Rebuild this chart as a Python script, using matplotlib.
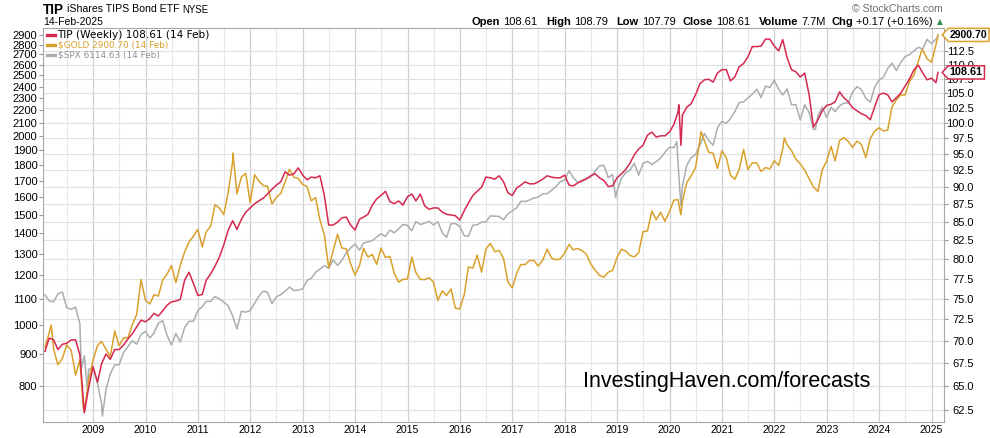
import matplotlib
matplotlib.use("Agg")
import matplotlib.pyplot as plt
import matplotlib.dates as mdates
import matplotlib.ticker as mticker
from matplotlib.lines import Line2D
from matplotlib.path import Path
from matplotlib.transforms import blended_transform_factory
import numpy as np
import pandas as pd

plt.rcParams["font.family"] = ["Liberation Sans", "DejaVu Sans"]

# ---- data (month-end closes, plus the last weekly bar) ----
months = pd.date_range("2008-01-31", "2025-01-31", freq="ME")
last_date = pd.Timestamp("2025-02-14")

tip_monthly = [
    68.8, 70.3, 70.1, 69.0, 69.6, 69.7, 70.1, 70.1, 68.4, 62.2, 64.8, 67.1,
    65.4, 67.4, 68.5, 67.9, 69.0, 69.0, 69.5, 70.2, 70.8, 71.6, 72.4, 72.2,
    72.6, 73.2, 72.9, 73.5, 74.2, 74.6, 74.7, 74.9, 77.3, 78.3, 76.9, 75.4,
    75.5, 77.3, 78.1, 79.1, 80.3, 81.9, 83.9, 85.2, 84.0, 85.4, 86.4, 87.0,
    87.6, 88.0, 88.4, 89.0, 89.7, 90.3, 90.8, 92.3, 91.8, 92.0, 92.9, 91.8,
    91.1, 91.5, 91.4, 91.7, 88.8, 84.6, 84.6, 85.0, 85.6, 85.7, 84.6, 83.9,
    85.4, 85.7, 86.1, 87.4, 88.3, 88.8, 89.4, 87.9, 87.6, 88.0, 87.4, 88.6,
    89.0, 88.0, 89.0, 87.3, 86.8, 87.0, 87.0, 86.4, 86.1, 86.0, 85.9, 85.3,
    86.6, 87.7, 88.8, 89.4, 90.0, 91.5, 91.4, 91.2, 91.7, 90.8, 89.2, 88.8,
    89.9, 90.3, 90.8, 90.5, 90.5, 90.8, 91.2, 91.7, 91.5, 91.4, 91.4, 91.8,
    90.3, 90.2, 90.6, 91.0, 91.2, 91.7, 92.0, 91.4, 91.0, 90.1, 90.2, 91.4,
    92.0, 92.6, 93.6, 94.9, 95.8, 96.4, 98.0, 98.5, 97.7, 97.9, 97.9, 98.5,
    99.7, 101.8, 101.3, 102.6, 103.2, 104.7, 106.6, 107.3, 107.4, 106.9, 108.5, 109.1,
    109.1, 107.1, 107.8, 109.6, 110.2, 111.4, 113.3, 113.3, 113.4, 114.7, 114.7, 113.4,
    112.5, 114.6, 111.2, 109.1, 108.7, 107.8, 108.5, 104.7, 99.3, 100.5, 102.0, 102.9,
    103.1, 103.5, 105.2, 104.2, 103.5, 102.5, 102.0, 101.5, 101.2, 100.5, 102.6, 104.7,
    105.0, 104.7, 103.5, 104.2, 105.0, 106.2, 107.5, 109.1, 109.9, 108.5, 107.3, 107.6,
    106.8,
]
gold_monthly = [
    923, 972, 916, 865, 885, 930, 913, 833, 880, 730, 815, 880,
    928, 942, 916, 891, 979, 927, 954, 955, 1001, 1040, 1182, 1096,
    1081, 1118, 1113, 1180, 1207, 1244, 1169, 1246, 1307, 1357, 1386, 1421,
    1333, 1409, 1439, 1556, 1536, 1500, 1628, 1825, 1620, 1722, 1746, 1566,
    1737, 1697, 1669, 1664, 1560, 1598, 1622, 1692, 1772, 1720, 1713, 1675,
    1663, 1578, 1597, 1472, 1393, 1234, 1313, 1396, 1327, 1323, 1253, 1202,
    1244, 1326, 1284, 1296, 1250, 1327, 1282, 1287, 1210, 1171, 1183, 1184,
    1283, 1213, 1183, 1182, 1190, 1172, 1095, 1134, 1115, 1142, 1065, 1061,
    1118, 1238, 1233, 1293, 1215, 1322, 1350, 1309, 1316, 1277, 1173, 1146,
    1211, 1249, 1249, 1268, 1268, 1242, 1269, 1322, 1280, 1271, 1275, 1303,
    1345, 1318, 1325, 1315, 1298, 1253, 1224, 1200, 1192, 1215, 1222, 1282,
    1321, 1313, 1292, 1284, 1305, 1409, 1413, 1520, 1472, 1513, 1464, 1517,
    1582, 1585, 1577, 1687, 1730, 1781, 1975, 1968, 1886, 1879, 1777, 1895,
    1847, 1734, 1708, 1769, 1906, 1771, 1814, 1814, 1757, 1783, 1774, 1829,
    1797, 1909, 1937, 1897, 1838, 1807, 1766, 1711, 1660, 1633, 1768, 1824,
    1928, 1827, 1969, 1990, 1962, 1919, 1965, 1940, 1849, 1983, 2036, 2063,
    2040, 2044, 2230, 2286, 2327, 2327, 2447, 2503, 2635, 2744, 2657, 2625,
    2798,
]
spx_monthly = [
    1378, 1330, 1323, 1386, 1400, 1280, 1267, 1283, 1166, 969, 896, 903,
    826, 735, 798, 873, 919, 919, 987, 1021, 1057, 1036, 1096, 1115,
    1074, 1104, 1169, 1187, 1089, 1031, 1102, 1049, 1141, 1183, 1181, 1258,
    1286, 1327, 1326, 1364, 1345, 1321, 1292, 1219, 1131, 1253, 1247, 1258,
    1312, 1366, 1408, 1398, 1310, 1362, 1379, 1407, 1441, 1412, 1416, 1426,
    1498, 1515, 1569, 1598, 1631, 1606, 1686, 1633, 1682, 1757, 1806, 1848,
    1783, 1859, 1872, 1884, 1924, 1960, 1931, 2003, 1972, 2018, 2068, 2059,
    1995, 2105, 2068, 2086, 2107, 2063, 2104, 1972, 1920, 2079, 2080, 2044,
    1940, 1932, 2060, 2065, 2097, 2099, 2174, 2171, 2168, 2126, 2199, 2239,
    2279, 2364, 2363, 2384, 2412, 2423, 2470, 2472, 2519, 2575, 2648, 2674,
    2824, 2714, 2641, 2648, 2705, 2718, 2816, 2902, 2914, 2712, 2760, 2507,
    2704, 2784, 2834, 2946, 2752, 2942, 2980, 2926, 2977, 3038, 3141, 3231,
    3226, 2954, 2585, 2912, 3044, 3100, 3271, 3500, 3363, 3270, 3622, 3756,
    3714, 3811, 3973, 4181, 4204, 4298, 4395, 4523, 4308, 4605, 4567, 4766,
    4516, 4374, 4530, 4132, 4132, 3785, 4130, 3955, 3586, 3872, 4080, 3840,
    4077, 3970, 4109, 4169, 4180, 4450, 4589, 4508, 4288, 4194, 4568, 4770,
    4846, 5096, 5254, 5036, 5278, 5460, 5522, 5648, 5762, 5705, 6032, 5882,
    6041,
]
tip_last, gold_last, spx_last = 108.61, 2900.70, 6114.63

# a few weekly extremes that month-end closes miss
tip_extra_dates = ["2020-03-06", "2020-03-20"]
tip_extra_values = [103.0, 96.4]
gold_extra_dates = ["2008-03-14", "2008-10-24", "2011-09-02", "2020-03-20",
                    "2020-08-07", "2022-03-11", "2024-10-25"]
gold_extra_values = [1001, 737, 1880, 1499, 2035, 1988, 2747]
spx_extra_dates = ["2008-10-10", "2008-11-21", "2009-03-06", "2018-12-21",
                   "2020-02-21", "2020-03-20", "2022-10-14"]
spx_extra_values = [899, 800, 683, 2417, 3338, 2305, 3583]

tip_ticks = np.arange(62.5, 113, 2.5)
gold_ticks = np.arange(800, 3000, 100)

TIP_C, GOLD_C, SPX_C = "#d6284e", "#d9a12c", "#a9aeb2"


def build_series(monthly, last, extra_dates, extra_values):
    s = pd.Series(monthly, index=months, dtype=float)
    s[last_date] = last
    extra = pd.Series(extra_values, index=pd.to_datetime(extra_dates), dtype=float)
    return pd.concat([s, extra]).sort_index()


tip = build_series(tip_monthly, tip_last, tip_extra_dates, tip_extra_values)
gold = build_series(gold_monthly, gold_last, gold_extra_dates, gold_extra_values)
spx = build_series(spx_monthly, spx_last, spx_extra_dates, spx_extra_values)

# ---- figure ----
W, H = 990, 438
fig = plt.figure(figsize=(W / 100, H / 100), dpi=100)


def fx(px):
    return px / W


def fy(py):
    return 1 - py / H


ax = fig.add_axes([fx(43), fy(422), fx(944) - fx(43), fy(28) - fy(422)])
ax_spx = ax.twinx()
ax_gold = ax.twinx()
ax_tip = ax.twinx()

# base axes: TIP scale, grid, right labels, dates
ax.set_yscale("log")
ax.set_ylim(61.28, 116.8)
ax.yaxis.set_major_locator(mticker.FixedLocator(tip_ticks))
ax.yaxis.set_minor_locator(mticker.NullLocator())
ax.yaxis.set_major_formatter(mticker.FormatStrFormatter("%.1f"))
ax.yaxis.tick_right()
ax.tick_params(axis="y", length=3, color="#9a9a9a", labelsize=8, pad=18.5)
plt.setp(ax.yaxis.get_majorticklabels(), ha="right")
ax.grid(axis="y", color="#e0e0e0", lw=0.8)

ax.set_xlim(pd.Timestamp("2008-01-17"), pd.Timestamp("2025-03-28"))
ax.xaxis.set_major_locator(mdates.YearLocator())
ax.xaxis.set_minor_locator(mdates.MonthLocator(bymonth=7))
ax.xaxis.set_major_formatter(mdates.DateFormatter("%Y"))
ax.tick_params(axis="x", which="both", length=0, labelsize=7.6, pad=2.5)
ax.grid(axis="x", which="major", color="#cdd0d5", lw=0.9)
ax.grid(axis="x", which="minor", color="#e8e8e8", lw=0.8)
for sp in ax.spines.values():
    sp.set_color("#a8a8a8")

# SPX on its own hidden scale
ax_spx.set_yscale("log")
ax_spx.set_ylim(660.6, 6441)
ax_spx.axis("off")
ax_spx.plot(spx.index, spx.values, color=SPX_C, lw=1.1)

# gold on the left scale
ax_gold.set_yscale("log")
ax_gold.set_ylim(701, 2975)
ax_gold.yaxis.set_major_locator(mticker.FixedLocator(gold_ticks))
ax_gold.yaxis.set_minor_locator(mticker.NullLocator())
ax_gold.yaxis.set_major_formatter(mticker.FormatStrFormatter("%d"))
ax_gold.yaxis.set_ticks_position("left")
ax_gold.tick_params(axis="y", length=3, color="#9a9a9a", labelsize=8, pad=1)
for sp in ax_gold.spines.values():
    sp.set_visible(False)
ax_gold.plot(gold.index, gold.values, color=GOLD_C, lw=1.1)

# TIP on the right scale, on top
ax_tip.set_yscale("log")
ax_tip.set_ylim(61.28, 116.8)
ax_tip.yaxis.set_visible(False)
for sp in ax_tip.spines.values():
    sp.set_visible(False)
ax_tip.plot(tip.index, tip.values, color=TIP_C, lw=1.1)

# twinx moves the base ticks to the left, put them back
ax.yaxis.tick_right()


# ---- value tags at the right edge ----
def tag_box(x0, y0, width, height, mutation_size):
    pad = mutation_size * 0.15
    x0, y0 = x0 - pad, y0 - pad
    x1, y1 = x0 + width + 2 * pad, y0 + height + 2 * pad
    tip_len = (y1 - y0) * 0.45
    return Path([(x0, y0), (x1, y0), (x1, y1), (x0, y1),
                 (x0 - tip_len, (y0 + y1) / 2), (x0, y0)], closed=True)


for axis_, value, color, txt, fs in [(ax_gold, gold_last, GOLD_C, "2900.70", 7.5),
                                     (ax_tip, tip_last, TIP_C, "108.61", 7.8)]:
    tr = blended_transform_factory(axis_.transAxes, axis_.transData)
    axis_.annotate(txt, xy=(1.0, value), xycoords=tr, xytext=(4.2, 0),
                   textcoords="offset points", ha="left", va="center",
                   fontsize=fs, fontweight="bold", color="black",
                   annotation_clip=False, zorder=10,
                   bbox=dict(boxstyle=tag_box, fc="white", ec=color, lw=1.1))

# ---- legend rows ----
legend_rows = [
    ("TIP (Weekly) 108.61 (14 Feb)", TIP_C, "black", 7.6, 35),
    ("$GOLD 2900.70 (14 Feb)", GOLD_C, GOLD_C, 6.4, 45),
    ("$SPX 6114.63 (14 Feb)", SPX_C, "#8d9296", 6.4, 55),
]
for label, lc, tc, fs, ypx in legend_rows:
    fig.add_artist(Line2D([fx(47), fx(55)], [fy(ypx), fy(ypx)], color=lc, lw=2.4,
                          transform=fig.transFigure))
    fig.text(fx(57.5), fy(ypx), label, color=tc, fontsize=fs, va="center",
             family="DejaVu Sans")

# ---- header ----
fig.text(fx(43), fy(9.5), "TIP", fontsize=9.8, fontweight="bold", va="center")
fig.text(fx(67), fy(9.5), "iShares TIPS Bond ETF", fontsize=7.6, va="center")
fig.text(fx(182), fy(10), "NYSE", fontsize=6.9, va="center")
fig.text(fx(43), fy(22), "14-Feb-2025", fontsize=7.5, va="center")
fig.text(fx(943), fy(9), "\u00a9 StockCharts.com", fontsize=7.6, color="#6e6e6e",
         ha="right", va="center")
fig.text(fx(940), fy(22), "\u25b2", fontsize=5.5, color="#2f8f4e", ha="center",
         va="center", family="DejaVu Sans")

quote = [("Open", True, 0), ("108.61", False, 3), ("High", True, 9),
         ("108.79", False, 3), ("Low", True, 9), ("107.79", False, 3),
         ("Close", True, 7), ("108.61", False, 3), ("Volume", True, 9),
         ("7.7M", False, 3), ("Chg", True, 6), ("+0.17 (+0.16%)", False, 3)]
renderer = fig.canvas.get_renderer()
x_right = 933
for s, bold, gap in reversed(quote):
    t = fig.text(fx(x_right), fy(22), s, fontsize=8, ha="right", va="center",
                 fontweight="bold" if bold else "normal")
    x_right -= t.get_window_extent(renderer).width + gap

# ---- watermark ----
fig.text(fx(727), fy(381), "InvestingHaven.com/forecasts", fontsize=15.5,
         ha="center", va="center", color="black")

fig.savefig("out.png", dpi=100, facecolor="white")
